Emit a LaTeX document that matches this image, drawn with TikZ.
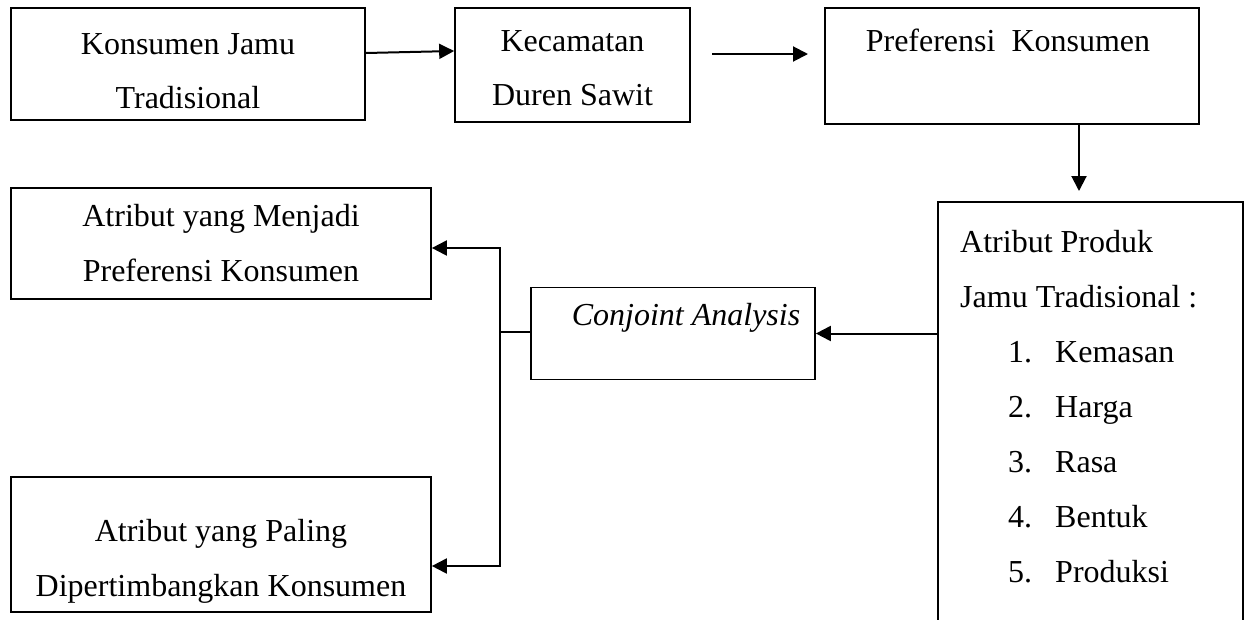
\documentclass[tikz,border=0pt]{standalone}
\usepackage{fontspec}
\setmainfont{Liberation Serif}
\usetikzlibrary{arrows.meta}
\begin{document}
\begin{tikzpicture}[x=1pt,y=-1pt,
  box/.style={draw, line width=1.7pt, inner sep=0pt},
  txt/.style={font=\fontsize{32}{38}\selectfont, inner sep=0pt, anchor=base},
  txtl/.style={txt, anchor=base west},
  arr/.style={line width=2pt, -{Triangle[length=15pt,width=15pt]}},
  ln/.style={line width=2pt}]
\useasboundingbox (0,0) rectangle (1248,619);
\clip (0,0) rectangle (1248,619);
% boxes
\node[box, minimum width=354pt, minimum height=112pt] (k) at (188,64) {};
\node[box, minimum width=235pt, minimum height=114pt] (kec) at (572.5,65) {};
\node[box, minimum width=374pt, minimum height=116pt] (pref) at (1012,66) {};
\node[box, minimum width=305pt, minimum height=500pt] (atr) at (1090.5,452) {};
\node[box, minimum width=284pt, minimum height=92pt] (cj) at (673,333.5) {};
\node[box, minimum width=420pt, minimum height=111pt] (A) at (221,243.5) {};
\node[box, minimum width=420pt, minimum height=135pt] (B) at (221,544.5) {};
% texts
\node[txt] (k1) at (188,54) {Konsumen Jamu};
\node[txt] (k2) at (188,108) {Tradisional};
\node[txt] (kec1) at (572.5,51) {Kecamatan};
\node[txt] (kec2) at (572.5,105) {Duren Sawit};
\node[txt] (p1) at (1008,51) {Preferensi\ \ Konsumen};
\node[txt] (cj1) at (686,325) {\itshape Conjoint Analysis};
\node[txtl] (a1) at (960,252) {Atribut Produk};
\node[txtl] (a2) at (960,307) {Jamu Tradisional :};
\node[txtl] (n1) at (1008,362) {1.};
\node[txtl] (w1) at (1055,362) {Kemasan};
\node[txtl] (n2) at (1008,417) {2.};
\node[txtl] (w2) at (1055,417) {Harga};
\node[txtl] (n3) at (1008,472) {3.};
\node[txtl] (w3) at (1055,472) {Rasa};
\node[txtl] (n4) at (1008,527) {4.};
\node[txtl] (w4) at (1055,527) {Bentuk};
\node[txtl] (n5) at (1008,582) {5.};
\node[txtl] (w5) at (1055,582) {Produksi};
\node[txt] (A1) at (221,226) {Atribut yang Menjadi};
\node[txt] (A2) at (221,281) {Preferensi Konsumen};
\node[txt] (B1) at (221,541) {Atribut yang Paling};
\node[txt] (B2) at (221,596) {Dipertimbangkan Konsumen};
% connectors
\draw[arr] ([yshift=11pt]k.east) -- ([yshift=14pt]kec.west);
\coordinate (f1) at (712,54);
\coordinate (f2) at (808,54);
\draw[arr] (f1) -- (f2);
\coordinate (d) at (1079,191);
\draw[arr] (pref.south -| d) -- (d);
\draw[arr] (atr.west |- cj.east) -- (cj.east);
\coordinate (j) at (500,332);
\coordinate (jt) at (500,248);
\coordinate (jb) at (500,566);
\draw[ln] (cj.west |- j) -- (j);
\draw[arr] (j) -- (jt) -- (A.east |- jt);
\draw[arr] (j) -- (jb) -- (B.east |- jb);
\end{tikzpicture}
\end{document}
